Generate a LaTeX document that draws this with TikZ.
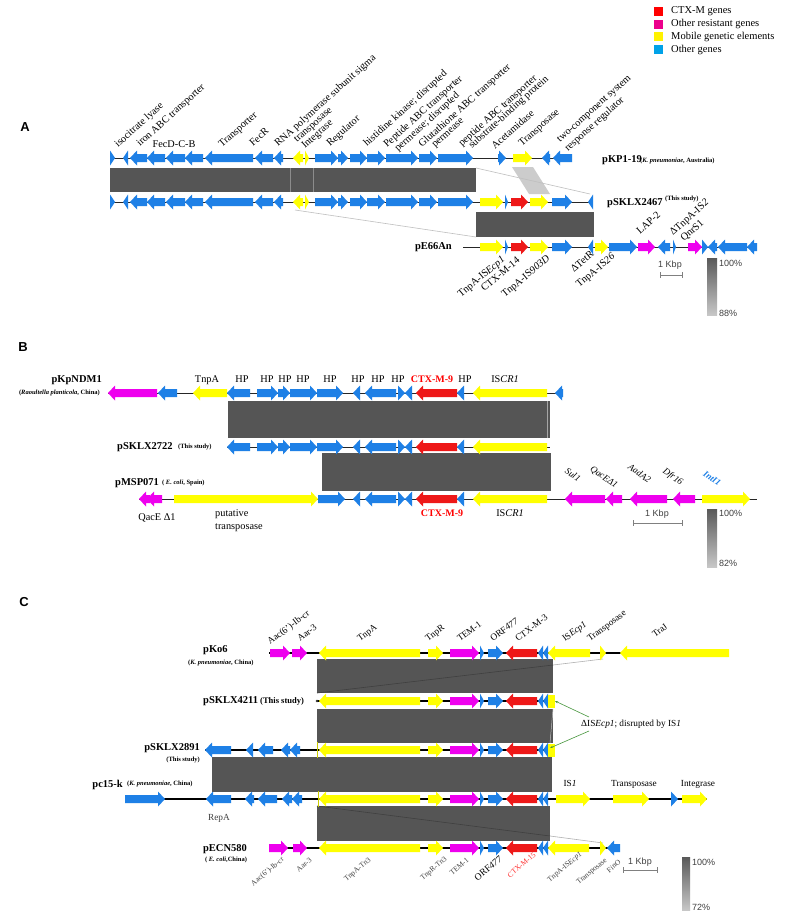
\documentclass[tikz,border=0pt]{standalone}
\usepackage{fontspec}
\setmainfont{Liberation Serif}
\newfontfamily\arialf{Liberation Sans}
\usetikzlibrary{arrows.meta}
\definecolor{colB}{RGB}{30,128,230}
\definecolor{colR}{RGB}{238,24,24}
\definecolor{colM}{RGB}{238,0,238}
\definecolor{colY}{RGB}{255,255,0}
\definecolor{colD}{RGB}{85,85,85}
\definecolor{colL}{RGB}{0,162,232}
\definecolor{colG}{RGB}{70,150,60}
% right-pointing gene from #1 to #2 at height #3, colour #4
\newcommand\gR[4]{\fill[#4] (#1,{#3-4}) -- ({max(#1,#2-7)},{#3-4}) -- ({max(#1,#2-7)},{#3-7.5}) -- (#2,#3) -- ({max(#1,#2-7)},{#3+7.5}) -- ({max(#1,#2-7)},{#3+4}) -- (#1,{#3+4}) -- cycle;}
% left-pointing gene, tip at #1, tail at #2
\newcommand\gL[4]{\fill[#4] (#2,{#3-4}) -- ({min(#2,#1+7)},{#3-4}) -- ({min(#2,#1+7)},{#3-7.5}) -- (#1,#3) -- ({min(#2,#1+7)},{#3+7.5}) -- ({min(#2,#1+7)},{#3+4}) -- (#2,{#3+4}) -- cycle;}
\newcommand\rowAleft[1]{%
\gR{110}{115}{#1}{colB}\gL{123}{128}{#1}{colB}\gL{130}{147}{#1}{colB}\gL{147}{165}{#1}{colB}%
\gL{166}{185}{#1}{colB}\gL{185}{203}{#1}{colB}\gL{205}{253}{#1}{colB}\gL{255}{273}{#1}{colB}%
\gL{274}{283}{#1}{colB}\gL{293}{303}{#1}{colY}\gR{305}{309}{#1}{colY}\gR{315}{338}{#1}{colB}%
\gR{338}{348}{#1}{colB}\gR{350}{367}{#1}{colB}\gR{367}{385}{#1}{colB}\gR{386}{418}{#1}{colB}%
\gR{419}{437}{#1}{colB}\gR{438}{473}{#1}{colB}}
\newcommand\rowActx[1]{%
\gR{480}{503}{#1}{colY}\gR{505}{508}{#1}{colB}\gR{511}{528}{#1}{colR}\gR{530}{548}{#1}{colY}%
\gR{552}{572}{#1}{colB}\gL{588}{593}{#1}{colB}}
\newcommand\rowBright[1]{%
\gL{353}{360}{#1}{colB}\gL{365}{396}{#1}{colB}\gR{398}{405}{#1}{colB}\gL{405}{412}{#1}{colB}%
\gL{416}{457}{#1}{colR}\gL{457}{464}{#1}{colB}\gL{473}{547}{#1}{colY}}
\newcommand\rowBleft[1]{%
\gL{227}{250}{#1}{colB}\gR{257}{278}{#1}{colB}\gR{278}{290}{#1}{colB}\gR{290}{317}{#1}{colB}%
\gR{317}{343}{#1}{colB}}
\newcommand\rowC[1]{%
\gL{319}{420}{#1}{colY}\gR{428}{443}{#1}{colY}\gR{450}{479}{#1}{colM}\gR{480}{484}{#1}{colB}%
\gR{488}{503}{#1}{colB}\gL{506}{537}{#1}{colR}\gL{538}{543}{#1}{colB}\gL{543}{548}{#1}{colB}}
\begin{document}
\begin{tikzpicture}[x=1pt,y=-1pt,
  lab/.style={font=\fontsize{10.3}{12}\selectfont, inner sep=0pt},
  labc/.style={font=\fontsize{9.3}{11}\selectfont, inner sep=0pt},
  labs/.style={font=\fontsize{7.5}{9}\selectfont, inner sep=0pt, text=black!75},
  pname/.style={font=\fontsize{10.5}{12}\bfseries\selectfont, inner sep=0pt},
  porg/.style={font=\fontsize{6.5}{8}\bfseries\selectfont, inner sep=0pt},
  plet/.style={font=\arialf\fontsize{13}{15}\bfseries\selectfont, inner sep=0pt},
  legt/.style={font=\fontsize{10.5}{12}\selectfont, inner sep=0pt, anchor=west},
  sans/.style={font=\arialf\fontsize{9}{11}\selectfont, inner sep=0pt, text=black!75},
  bb/.style={line width=0.9pt, black!85},
  bbc/.style={line width=1.8pt, black},
  sbar/.style={draw=gray, line width=0.7pt},
  lgl/.style={draw=gray!50, line width=0.6pt}]
\useasboundingbox (0,0) rectangle (787,915);
\fill[white] (0,0) rectangle (787,915);

% ---------- legend ----------
\fill[red] (654,7) rectangle (663,16);
\fill[magenta] (654,20) rectangle (663,29);
\fill[yellow] (654,32) rectangle (663,41);
\fill[colL] (654,45) rectangle (663,54);
\node[legt] (lg1) at (671,11) {CTX-M genes};
\node[legt] (lg2) at (671,24) {Other resistant genes};
\node[legt] (lg3) at (671,37) {Mobile genetic elements};
\node[legt] (lg4) at (671,50) {Other genes};

% ---------- panel A ----------
\node[plet] (pA) at (25,127) {A};
\fill[colD] (110,168) rectangle (476,192);
\draw[black!45, very thin] (290,168) -- (290,192) (313,168) -- (313,192);
\fill[colD] (476,212) rectangle (594,237);
\fill[gray!40] (512,167) -- (533,167) -- (550,194) -- (529,194) -- cycle;
\draw[lgl] (476,168) -- (590,194);
\draw[lgl] (295,210) -- (476,237);

\draw[bb] (110,158) -- (572,158);
\draw[bb] (110,202) -- (593,202);
\draw[bb] (463,247) -- (757,247);
\rowAleft{158}
\gR{498}{506}{158}{colB}\gR{513}{532}{158}{colY}\gL{542}{550}{158}{colB}\gL{553}{572}{158}{colB}
\rowAleft{202}
\rowActx{202}
\rowActx{247}
\gR{595}{608}{247}{colY}\gR{609}{637}{247}{colB}\gR{638}{655}{247}{colM}\gL{658}{670}{247}{colB}
\gR{673}{676}{247}{colB}\gR{688}{702}{247}{colM}\gR{702}{708}{247}{colB}\gL{708}{717}{247}{colB}
\gL{718}{747}{247}{colB}\gL{747}{757}{247}{colB}

\node[pname, anchor=west] (nA1) at (602,160) {pKP1-19};
\node[porg, anchor=west] (oA1) at (640,161) {(\textit{K. pneumoniae}, Australia)};
\node[pname, anchor=west] (nA2) at (607,203) {pSKLX2467};
\node[porg, anchor=west] (oA2) at (665,199) {(This study)};
\node[pname, anchor=east] (nA3) at (452,247) {pE66An};

\begin{scope}[every node/.style={lab, rotate=42, anchor=base west}]
\node (a1) at (118,148) {isocitrate lyase};
\node (a2) at (140,147) {iron ABC transporter};
\node (a3) at (222,148) {Transporter};
\node (a4) at (253,147) {FecR};
\node (a5) at (278,147) {RNA polymerase subunit sigma};
\node (a6) at (297,143) {transposase};
\node (a7) at (305,149) {Integrase};
\node (a8) at (330,147) {Regulator};
\node (a9) at (367,147) {histidine kinase; disrupted};
\node (a10) at (387,148) {Peptide ABC transporter};
\node (a11) at (398,152) {permease; disrupted};
\node (a12) at (422,148) {Glutathione ABC transporter};
\node (a13) at (435,148) {permease};
\node (a14) at (462,147) {peptide ABC transporter};
\node (a15) at (472,149) {substrate-binding protein};
\node (a16) at (495,150) {Acetamidase};
\node (a17) at (522,147) {Transposase};
\node (a18) at (560,143) {two-component system};
\node (a19) at (568,152) {response regulator};
\node (a20) at (640,235) {LAP-2};
\node (a21) at (673,236) {ΔTnpA-IS\textit{2}};
\node (a22) at (684,242) {QnrS1};
\end{scope}
\node[lab, anchor=base] (a0) at (174,147) {FecD-C-B};
\begin{scope}[every node/.style={lab, rotate=40, anchor=north east}]
\node (b1) at (501,255) {TnpA-IS\textit{Ecp1}};
\node (b2) at (516,256) {CTX-M-14};
\node (b3) at (546,254) {TnpA-IS\textit{903D}};
\node (b4) at (590,250) {ΔTetR};
\node (b5) at (611,252) {TnpA-IS\textit{26}};
\end{scope}
\node[sans] (kA) at (670,265) {1 Kbp};
\draw[sbar] (660,275) -- (682,275) (660,272) -- (660,278) (682,272) -- (682,278);
\shade[top color=black!65, bottom color=black!22] (707,258) rectangle (717,315);
\node[sans, anchor=west] (pA1) at (719,263) {100\%};
\node[sans, anchor=west] (pA2) at (719,313) {88\%};

% ---------- panel B ----------
\node[plet] (pB) at (23,347) {B};
\fill[colD] (228,401) rectangle (550,438);
\draw[gray!70, line width=0.6pt] (547,401) -- (547,438);
\fill[colD] (322,453) rectangle (551,491);
\draw[bb] (108,393) -- (563,393);
\draw[bb] (227,447) -- (550,447);
\draw[bb] (139,499) -- (757,499);
\gL{108}{157}{393}{colM}\gL{158}{177}{393}{colB}\gL{193}{227}{393}{colY}
\rowBleft{393}\rowBright{393}\gL{555}{563}{393}{colB}
\rowBleft{447}\rowBright{447}
\gL{139}{150}{499}{colM}\gL{147}{162}{499}{colM}\gR{174}{318}{499}{colY}\gR{318}{345}{499}{colB}
\rowBright{499}
\gL{565}{605}{499}{colM}\gL{606}{622}{499}{colM}\gL{630}{667}{499}{colM}\gL{673}{695}{499}{colM}
\gR{702}{750}{499}{colY}

\node[pname, anchor=east] (nB1) at (102,380) {pKpNDM1};
\node[porg, anchor=east] (oB1) at (100,393) {(\textit{Raoultella planticola}, China)};
\node[pname, anchor=west] (nB2) at (117,447) {pSKLX2722};
\node[porg, anchor=west] (oB2) at (178,447) {(This study)};
\node[pname, anchor=west] (nB3) at (115,483) {pMSP071};
\node[porg, anchor=west] (oB3) at (162,483) {( \textit{E. coli}, Spain)};

\begin{scope}[every node/.style={lab, anchor=base}]
\node (h0) at (207,382) {TnpA};
\node (h1) at (242,382) {HP};
\node (h2) at (267,382) {HP};
\node (h3) at (285,382) {HP};
\node (h4) at (303,382) {HP};
\node (h5) at (330,382) {HP};
\node (h6) at (358,382) {HP};
\node (h7) at (378,382) {HP};
\node (h8) at (398,382) {HP};
\node[text=red, font=\fontsize{10}{12}\bfseries\selectfont] (h9) at (432,382) {CTX-M-9};
\node (h10) at (465,382) {HP};
\node (h11) at (505,382) {IS\textit{CR1}};
\node (q1) at (157,520) {QacE Δ1};
\node[text=red, font=\fontsize{10}{12}\bfseries\selectfont] (q2) at (442,516) {CTX-M-9};
\node (q3) at (510,516) {IS\textit{CR1}};
\node[anchor=base west] (q4) at (215,516) {putative};
\node[anchor=base west] (q5) at (215,529) {transposase};
\end{scope}
\begin{scope}[every node/.style={labc, rotate=-35, anchor=north west}]
\node (r1) at (568,467) {\textit{Sul1}};
\node (r2) at (593,465) {\textit{QacEΔ1}};
\node (r3) at (631,463) {\textit{AadA2}};
\node (r4) at (666,467) {\textit{Dfr16}};
\node[text=colB, font=\fontsize{9}{11}\bfseries\selectfont] (r5) at (706,470) {\textit{IntI1}};
\end{scope}
\node[sans] (kB) at (657,514) {1 Kbp};
\draw[sbar] (633,523) -- (682,523) (633,520) -- (633,526) (682,520) -- (682,526);
\shade[top color=black!65, bottom color=black!22] (707,509) rectangle (717,567);
\node[sans, anchor=west] (pB1) at (719,513) {100\%};
\node[sans, anchor=west] (pB2) at (719,563) {82\%};

% ---------- panel C ----------
\node[plet] (pC) at (24,602) {C};
\fill[colD] (317,659) rectangle (553,693);
\fill[colD] (317,709) rectangle (553,743);
\fill[colD] (212,757) rectangle (552,792);
\fill[colD] (317,806) rectangle (550,841);
\draw[black!75, line width=0.6pt] (317,693) -- (553,665);
\draw[gray!60, line width=0.6pt] (553,665) -- (603,659);
\draw[gray!50, line width=0.5pt] (553,709) -- (550,743);
\draw[black!75, line width=0.6pt] (317,806) -- (550,836);
\draw[gray!60, line width=0.6pt] (550,836) -- (603,843);

\draw[bbc] (269,653) -- (729,653);
\draw[bbc] (317,701) -- (553,701);
\draw[bbc] (205,750) -- (553,750);
\draw[bbc] (125,799) -- (707,799);
\draw[bbc] (269,848) -- (620,848);
% pKo6
\gR{270}{290}{653}{colM}\gR{292}{307}{653}{colM}\rowC{653}
\gL{548}{590}{653}{colY}\gR{600}{606}{653}{colY}\gL{620}{729}{653}{colY}
% pSKLX4211
\fill[black!80] (317,701) circle (1.3);
\rowC{701}\fill[colY] (548,694.5) rectangle (555,707.5);
% pSKLX2891
\gL{205}{231}{750}{colB}\gL{246}{253}{750}{colB}\gL{258}{273}{750}{colB}\gL{281}{290}{750}{colB}\gL{290}{300}{750}{colB}
\draw[colY!80!black, line width=0.5pt] (317,742) -- (317,758);
\rowC{750}\fill[colY] (548,743.5) rectangle (555,756.5);
% pc15-k
\gR{125}{165}{799}{colB}\gL{206}{231}{799}{colB}\gL{245}{254}{799}{colB}\gL{258}{277}{799}{colB}
\gL{282}{292}{799}{colB}\gL{292}{302}{799}{colB}
\draw[colY!80!black, line width=0.5pt] (318,791) -- (318,807);
\rowC{799}
\gR{556}{590}{799}{colY}\gR{613}{649}{799}{colY}\gR{671}{678}{799}{colB}\gR{682}{707}{799}{colY}
% pECN580
\gR{269}{288}{848}{colM}\gR{293}{307}{848}{colM}\rowC{848}
\gL{548}{589}{848}{colY}\gR{600}{606}{848}{colY}\gL{607}{620}{848}{colB}

\node[pname, anchor=west] (nC1) at (203,650) {pKo6};
\node[porg, anchor=west] (oC1) at (188,663) {(\textit{K. pneumoniae}, China)};
\node[pname, anchor=west] (nC2) at (203,701) {pSKLX4211};
\node[font=\fontsize{8.5}{10}\bfseries\selectfont, inner sep=0pt, anchor=west] (oC2) at (260,701) {(This study)};
\node[pname, anchor=east] (nC3) at (200,748) {pSKLX2891};
\node[porg, anchor=east] (oC3) at (200,760) {(This study)};
\node[pname, anchor=east] (nC4) at (123,785) {pc15-k};
\node[porg, anchor=west] (oC4) at (127,784) {(\textit{K. pneumoniae}, China)};
\node[pname, anchor=base] (nC5) at (225,851) {pECN580};
\node[porg] (oC5) at (226,860) {( \textit{E. coli},China)};

\begin{scope}[every node/.style={labc, rotate=37, anchor=base west}]
\node (c1) at (270,645) {Aac(6')-Ib-cr};
\node (c2) at (300,642) {Aar-3};
\node (c3) at (360,642) {TnpA};
\node (c4) at (428,642) {TnpR};
\node (c5) at (460,642) {TEM-1};
\node (c6) at (493,642) {ORF\textit{477}};
\node (c7) at (518,642) {CTX-M-3};
\node (c8) at (565,642) {IS\textit{Ecp1}};
\node (c9) at (590,642) {Transposase};
\node (c10) at (655,638) {TraJ};
\end{scope}
\begin{scope}[every node/.style={labc, anchor=base}]
\node (d1) at (570,786) {IS\textit{1}};
\node (d2) at (634,786) {Transposase};
\node (d3) at (698,786) {Integrase};
\node[text=black!75] (d4) at (219,820) {RepA};
\end{scope}
\node[labc, anchor=west] (gnote) at (581,724) {ΔIS\textit{Ecp1}; disrupted by IS\textit{1}};
\draw[colG, line width=0.6pt, -{Stealth[length=3pt]}] (gnote.west) ++(8,-7) -- (555,701);
\draw[colG, line width=0.6pt, -{Stealth[length=3pt]}] (gnote.west) ++(8,7) -- (550,748);

\begin{scope}[every node/.style={labs, rotate=40, anchor=north east}]
\node (e1) at (281,856) {Aac(6')-Ib-cr};
\node (e2) at (309,857) {Aar-3};
\node (e3) at (368,857) {TnpA-Tn3};
\node (e4) at (444,856) {TnpR-Tn3};
\node (e5) at (466,857) {TEM-1};
\node[font=\fontsize{9.5}{11}\selectfont, text=black] (e6) at (499,855) {ORF\textit{477}};
\node[text=red!85] (e7) at (533,852) {CTX-M-15};
\node (e8) at (579,851) {TnpA-IS\textit{Ecp1}};
\node (e9) at (604,857) {Transposase};
\node (e10) at (618,859) {FinO};
\end{scope}
\node[sans] (kC) at (640,862) {1 Kbp};
\draw[sbar] (623,870) -- (657,870) (623,867) -- (623,873) (657,867) -- (657,873);
\shade[top color=black!65, bottom color=black!22] (682,857) rectangle (690,910);
\node[sans, anchor=west] (pC1) at (692,862) {100\%};
\node[sans, anchor=west] (pC2) at (692,907) {72\%};
\end{tikzpicture}
\end{document}
